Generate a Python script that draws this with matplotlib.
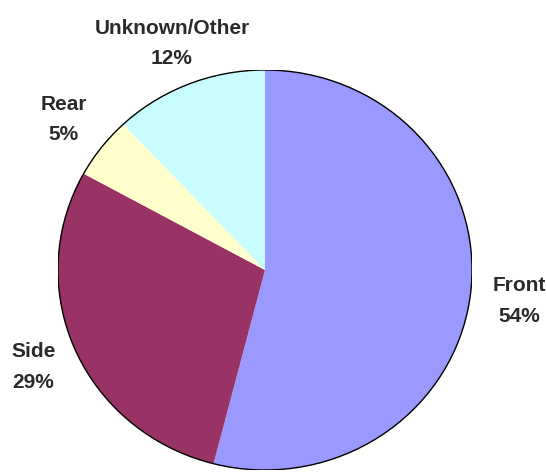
import matplotlib.pyplot as plt
import numpy as np
from matplotlib.patches import Circle

labels = ["Front", "Side", "Rear", "Unknown/Other"]
shares = [54, 29, 5, 12]
colors = ["#9999FF", "#993366", "#FFFFCC", "#C8FCFF"]
label_dist = [1.24, 1.22, 1.23, 1.22]

fig = plt.figure(figsize=(5.46, 4.73), dpi=100)
W, H = 546, 473
# pie box in pixels: left, right, top, bottom
ax = fig.add_axes([58 / W, (H - 470) / H, 414 / W, 400 / H])

wedges, _ = ax.pie(
    shares,
    colors=colors,
    startangle=90,
    counterclock=False,
    wedgeprops=dict(linewidth=0),
)
ax.set_aspect("auto")
ax.set_xlim(-1, 1)
ax.set_ylim(-1, 1)
# only the rim is outlined, no lines between slices
ax.add_patch(Circle((0, 0), 1, fill=False, edgecolor="black", linewidth=1.0))

for w, name, val, d in zip(wedges, labels, shares, label_dist):
    mid = np.deg2rad((w.theta1 + w.theta2) / 2)
    ax.text(
        d * np.cos(mid), d * np.sin(mid), f"{name}\n{val}%",
        ha="center", va="center", fontsize=15, fontweight="bold",
        family="Liberation Sans", color="#2a2a2a", linespacing=1.75,
        clip_on=False,
    )

fig.savefig("out.png", dpi=100)
